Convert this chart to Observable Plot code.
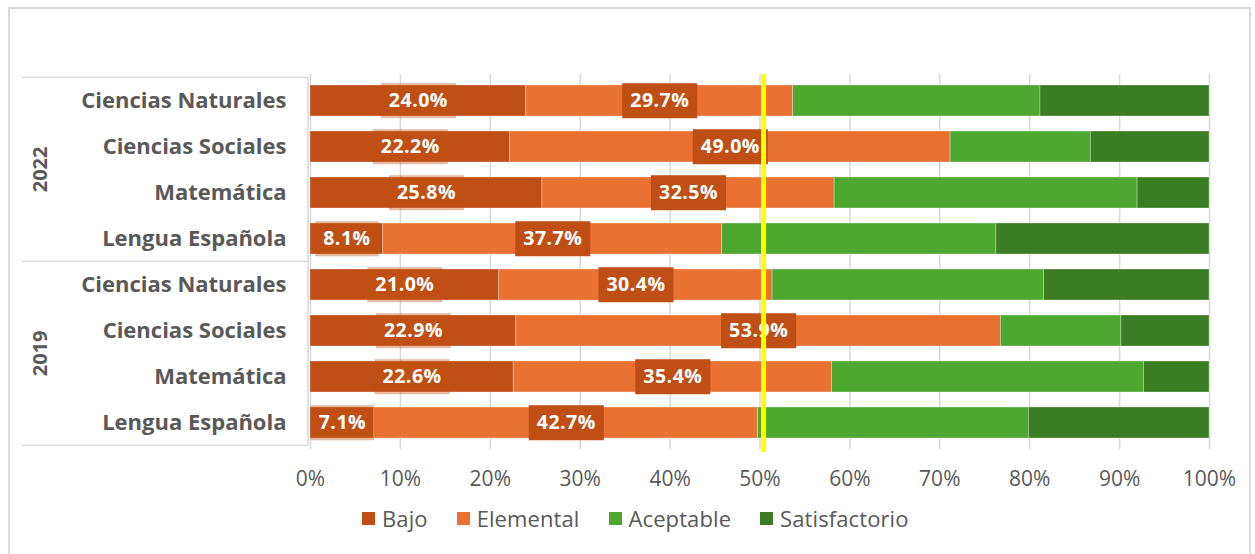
<!DOCTYPE html>
<html>
<head>
<meta charset="utf-8">
<script src="https://cdn.jsdelivr.net/npm/d3@7"></script>
<script src="https://cdn.jsdelivr.net/npm/@observablehq/plot@0.6"></script>
<style>
  html, body { margin: 0; padding: 0; background: #fff; }
  body { width: 1255px; height: 554px; position: relative; overflow: hidden; font-family: "Open Sans", sans-serif; }
  #border { position: absolute; left: 8px; top: 7px; width: 1243px; height: 560px; border: 2px solid #d9d9d9; box-sizing: border-box; }
  #chart { position: absolute; left: 0; top: 0; }
  #legend { position: absolute; left: 362px; top: 503px; display: flex; align-items: center; font-family: "Open Sans", sans-serif; font-size: 22px; letter-spacing: 0.1px; color: #595959; }
  #legend .item { display: flex; align-items: center; margin-right: 29px; }
  #legend .sw { width: 13px; height: 13px; margin-right: 7px; }
</style>
</head>
<body>
<div id="border"></div>
<div id="chart"></div>
<div id="legend"></div>
<script>
const subjects = ["Ciencias Naturales", "Ciencias Sociales", "Matemática", "Lengua Española"];
const years = ["2022", "2019"];
const levels = ["Bajo", "Elemental", "Aceptable", "Satisfactorio"];
const levelColors = ["#C04F15", "#E97132", "#4EA72E", "#3B7D23"];

const bajo2022 = [24.0, 22.2, 25.8, 8.1];
const elemental2022 = [29.7, 49.0, 32.5, 37.7];
const aceptable2022 = [27.5, 15.6, 33.7, 30.5];
const satisfactorio2022 = [18.8, 13.2, 8.0, 23.7];

const bajo2019 = [21.0, 22.9, 22.6, 7.1];
const elemental2019 = [30.4, 53.9, 35.4, 42.7];
const aceptable2019 = [30.2, 13.4, 34.7, 30.1];
const satisfactorio2019 = [18.4, 9.8, 7.3, 20.1];

const xTicks = [0, 10, 20, 30, 40, 50, 60, 70, 80, 90, 100];
const referenceValue = 50.4;

const seriesByYear = {
  "2022": [bajo2022, elemental2022, aceptable2022, satisfactorio2022],
  "2019": [bajo2019, elemental2019, aceptable2019, satisfactorio2019]
};

const keys = [];
const rows = [];
for (const year of years) {
  subjects.forEach((subject, i) => {
    const key = year + "|" + subject;
    keys.push(key);
    let start = 0;
    levels.forEach((level, j) => {
      const value = seriesByYear[year][j][i];
      rows.push({key, year, subject, level, value, mid: start + value / 2});
      start += value;
    });
  });
}
const fmt = d => d.value.toFixed(1) + "%";
const bajoLabels = rows.filter(d => d.level === "Bajo");
const elementalLabels = rows.filter(d => d.level === "Elemental");
const bajoTexts = new Set(bajoLabels.map(fmt));
const elementalTexts = new Set(elementalLabels.map(fmt));

const plot = Plot.plot({
  width: 1255,
  height: 495,
  marginLeft: 310,
  marginRight: 46,
  marginTop: 75,
  marginBottom: 48,
  style: {fontFamily: "Open Sans, sans-serif", background: "transparent"},
  x: {domain: [0, 100]},
  y: {domain: keys, paddingInner: 0.33, paddingOuter: 0.165},
  color: {domain: levels, range: levelColors},
  marks: [
    Plot.gridX(xTicks, {stroke: "#d9d9d9", strokeOpacity: 1, strokeWidth: 1.5, insetTop: -1, insetBottom: -2}),
    Plot.barX(rows, Plot.stackX({x: "value", y: "key", fill: "level", order: levels, stroke: "#fff", strokeWidth: 0.6, strokeOpacity: 0.5})),
    Plot.text(bajoLabels, {x: "mid", y: "key", text: fmt, fill: "white", fontWeight: "bold", fontSize: 19.5}),
    Plot.text(elementalLabels, {x: "mid", y: "key", text: fmt, fill: "white", fontWeight: "bold", fontSize: 19.5}),
    Plot.ruleX([referenceValue], {stroke: "#FFFF00", strokeWidth: 5, insetTop: -1, insetBottom: -5}),
    Plot.axisX(xTicks, {tickSize: 0, tickPadding: 24, tickFormat: d => d + "%", fontSize: 21, fill: "#595959", label: null}),
    Plot.axisY({tickSize: 0, tickPadding: 24, tickFormat: d => d.split("|")[1], fontSize: 22, fontWeight: "bold", fill: "#595959", label: null})
  ]
});
document.getElementById("chart").append(plot);

const svg = d3.select(plot);
// letter spacing on value labels
svg.selectAll("text").each(function() {
  const s = this.textContent;
  if (bajoTexts.has(s) || elementalTexts.has(s)) this.style.letterSpacing = "0.5px";
});
// label boxes behind label text
svg.selectAll("text").each(function() {
  const s = this.textContent;
  const isBajo = bajoTexts.has(s), isElem = elementalTexts.has(s);
  if (!isBajo && !isElem) return;
  const bb = this.getBBox();
  const w = bb.width + 16, h = 35;
  const cy = bb.y + bb.height / 2;
  const r = document.createElementNS("http://www.w3.org/2000/svg", "rect");
  r.setAttribute("x", bb.x + bb.width / 2 - w / 2);
  r.setAttribute("y", cy - h / 2 + 1);
  r.setAttribute("width", w);
  r.setAttribute("height", h);
  r.setAttribute("fill", "#C04F15");
  r.setAttribute("fill-opacity", isBajo ? 0.4 : 1);
  const t = this.getAttribute("transform");
  if (t) r.setAttribute("transform", t);
  this.parentNode.insertBefore(r, this);
});

// multi-level category axis decorations
const ys = plot.scale("y");
const xs = plot.scale("x");
const step = ys.step;
const groupTop = ys.apply(keys[0]) - ys.step * 0.165;
const axisX0 = xs.apply(0) - 2;
const g = svg.append("g").attr("aria-label", "category-groups");
years.forEach((year, yi) => {
  const gTop = groupTop + yi * 4 * step;
  g.append("line").attr("x1", 22).attr("x2", axisX0).attr("y1", gTop).attr("y2", gTop)
    .attr("stroke", "#d9d9d9").attr("stroke-width", 1.5);
  g.append("text")
    .attr("transform", `translate(40,${gTop + 2 * step}) rotate(-90)`)
    .attr("text-anchor", "middle").attr("dy", "0.36em")
    .attr("fill", "#595959").attr("font-weight", "bold").attr("font-size", 20)
    .attr("font-family", "Open Sans, sans-serif")
    .text(year);
});
const groupBottom = groupTop + 8 * step;
g.append("line").attr("x1", 22).attr("x2", axisX0).attr("y1", groupBottom).attr("y2", groupBottom)
  .attr("stroke", "#d9d9d9").attr("stroke-width", 1.5);
g.append("line").attr("x1", axisX0).attr("x2", axisX0).attr("y1", groupTop).attr("y2", groupBottom)
  .attr("stroke", "#d9d9d9").attr("stroke-width", 1.5);
// keep reference line on top
svg.selectAll("line").each(function() {
  if (this.getAttribute("stroke") === "#FFFF00" || (this.parentNode.getAttribute("stroke") || "").toUpperCase() === "#FFFF00") {
    const gg = this.parentNode;
    gg.parentNode.appendChild(gg);
  }
});

// legend
const legend = d3.select("#legend");
levels.forEach((level, i) => {
  const it = legend.append("div").attr("class", "item");
  it.append("div").attr("class", "sw").style("background", levelColors[i]);
  it.append("span").text(level);
});
</script>
</body>
</html>
